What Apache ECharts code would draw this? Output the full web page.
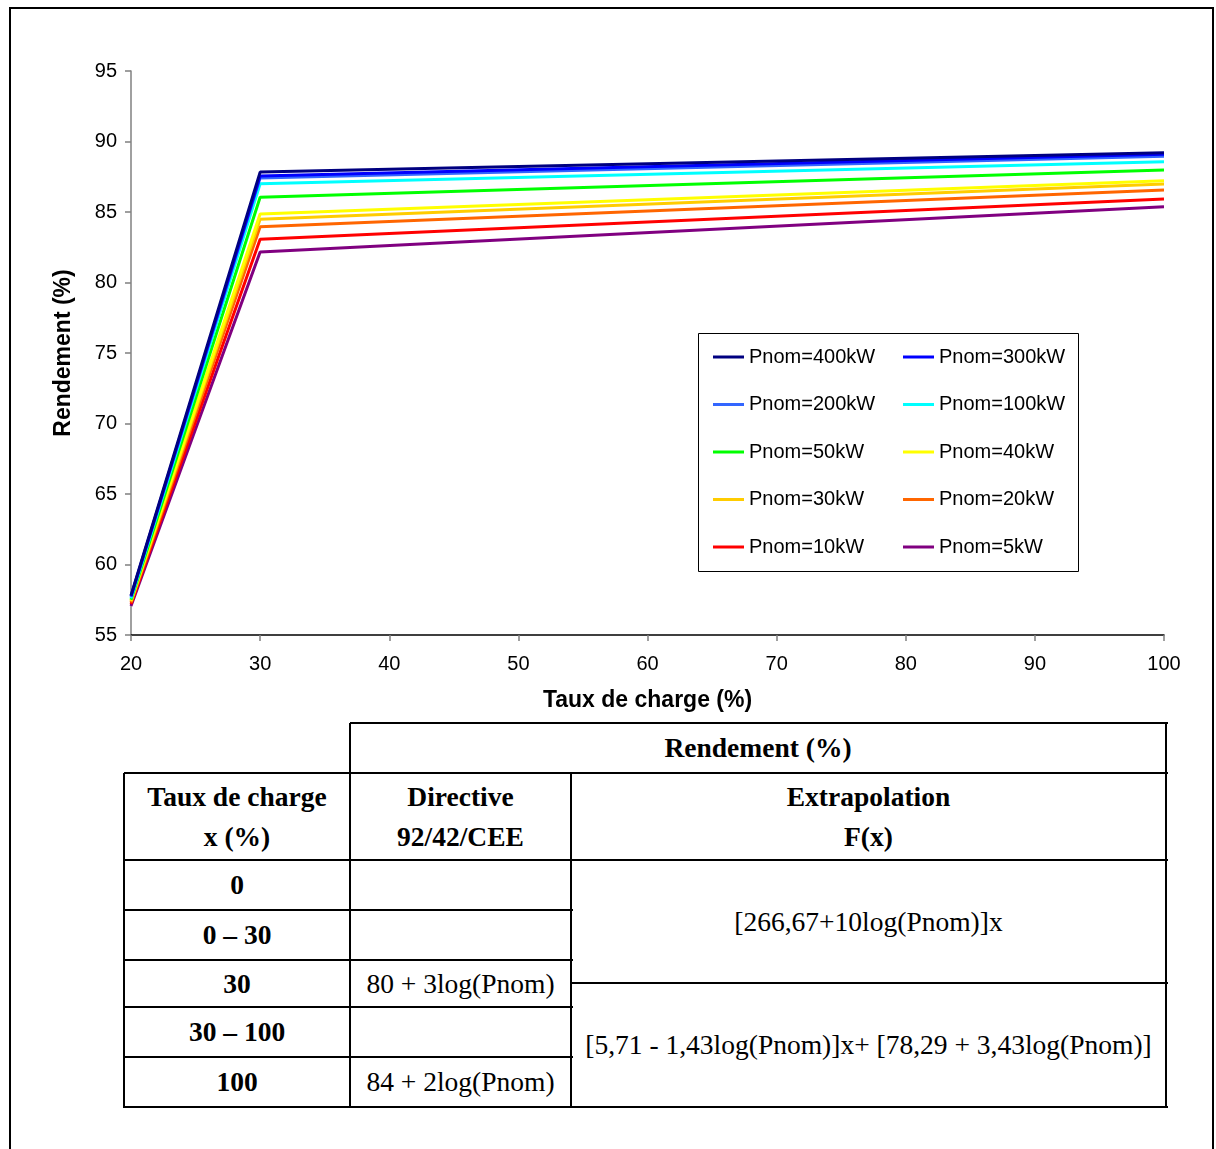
<!DOCTYPE html>
<html>
<head>
<meta charset="utf-8">
<script src="https://cdn.jsdelivr.net/npm/echarts@6/dist/echarts.min.js"></script>
<style>
  html, body { margin: 0; padding: 0; background: #fff; }
  body { width: 1216px; height: 1149px; position: relative; overflow: hidden; }
  #frame { position: absolute; left: 9px; top: 7px; width: 1205px; height: 1160px; border: 2px solid #000; box-sizing: border-box; }
  #chart { position: absolute; left: 0; top: 0; width: 1216px; height: 720px; }
  .cell { position: absolute; box-sizing: border-box; display: flex; align-items: center; justify-content: center; text-align: center;
          font-family: "Liberation Serif", "Times New Roman", serif; font-size: 27.5px; line-height: 40px; color: #000; white-space: nowrap; }
  .b { font-weight: bold; }
  .hl { position: absolute; background: #000; height: 2px; }
  .vl { position: absolute; background: #000; width: 2px; }
</style>
</head>
<body>
<div id="frame"></div>
<div id="chart"></div>
<div id="table"></div>
<script>
// ---- data ----
const loadRates = [20, 30, 100];
const seriesNames = ['Pnom=400kW','Pnom=300kW','Pnom=200kW','Pnom=100kW','Pnom=50kW','Pnom=40kW','Pnom=30kW','Pnom=20kW','Pnom=10kW','Pnom=5kW'];
const p400 = [57.8, 87.83, 89.2];
const p300 = [57.75, 87.55, 89.1];
const p200 = [57.7, 87.42, 88.95];
const p100 = [57.6, 87.0, 88.57];
const p50  = [57.5, 86.05, 87.98];
const p40  = [57.45, 84.86, 87.22];
const p30  = [57.4, 84.48, 86.99];
const p20  = [57.3, 83.96, 86.56];
const p10  = [57.2, 83.06, 85.93];
const p5   = [57.05, 82.16, 85.38];
const yTicks = [55, 95, 5];   // min, max, interval
const xTicks = [20, 100, 10];

const seriesValues = [p400, p300, p200, p100, p50, p40, p30, p20, p10, p5];
const colors = ['#000080','#0000FF','#3366FF','#00FFFF','#00FF00','#FFFF00','#FFCC00','#FF6600','#FF0000','#800080'];

const chart = echarts.init(document.getElementById('chart'));
const legendText = { fontFamily: 'Liberation Sans, Arial, sans-serif', fontSize: 20, color: '#000', lineHeight: 22 };
const option = {
  animation: false,
  backgroundColor: 'transparent',
  grid: { left: 131, top: 71, width: 1033, height: 564, containLabel: false },
  xAxis: {
    type: 'value', min: xTicks[0], max: xTicks[1], interval: xTicks[2],
    name: 'Taux de charge (%)', nameLocation: 'middle', nameGap: 54,
    nameTextStyle: { fontFamily: 'Liberation Sans, Arial, sans-serif', fontSize: 23, fontWeight: 'bold', color: '#000' },
    axisLine: { lineStyle: { color: '#000', width: 1.5 } },
    axisTick: { show: true, length: 6, lineStyle: { color: '#808080', width: 1.5 } },
    axisLabel: { fontFamily: 'Liberation Sans, Arial, sans-serif', fontSize: 20, color: '#000', margin: 19 },
    splitLine: { show: false }
  },
  yAxis: {
    type: 'value', min: yTicks[0], max: yTicks[1], interval: yTicks[2],
    name: 'Rendement (%)', nameLocation: 'middle', nameGap: 56, nameRotate: 90,
    nameTextStyle: { fontFamily: 'Liberation Sans, Arial, sans-serif', fontSize: 23, fontWeight: 'bold', color: '#000' },
    axisLine: { show: true, lineStyle: { color: '#808080', width: 1.5 } },
    axisTick: { show: true, length: 6, lineStyle: { color: '#808080', width: 1.5 } },
    axisLabel: { fontFamily: 'Liberation Sans, Arial, sans-serif', fontSize: 20, color: '#000', margin: 14 },
    splitLine: { show: false }
  },
  legend: [
    { data: [seriesNames[0], seriesNames[2], seriesNames[4], seriesNames[6], seriesNames[8]],
      orient: 'vertical', left: 713, top: 346, itemGap: 25.5, padding: 0,
      icon: 'rect', itemWidth: 31, itemHeight: 3, textStyle: legendText },
    { data: [seriesNames[1], seriesNames[3], seriesNames[5], seriesNames[7], seriesNames[9]],
      orient: 'vertical', left: 903, top: 346, itemGap: 25.5, padding: 0,
      icon: 'rect', itemWidth: 31, itemHeight: 3, textStyle: legendText }
  ],
  graphic: [
    { type: 'rect', left: 698, top: 333, shape: { width: 380, height: 238 },
      style: { fill: '#fff', stroke: '#000', lineWidth: 1 }, z: -1 }
  ],
  series: seriesNames.map((n, i) => ({
    name: n, type: 'line', symbol: 'none', z: 2 + (seriesNames.length - i),
    lineStyle: { width: 3, color: colors[i] }, itemStyle: { color: colors[i] },
    data: loadRates.map((x, j) => [x, seriesValues[i][j]])
  }))
};
chart.setOption(option);

// ---- table ----
const tbl = document.getElementById('table');
function cell(x1, y1, x2, y2, html, bold) {
  const d = document.createElement('div');
  d.className = 'cell' + (bold ? ' b' : '');
  d.style.left = x1 + 'px'; d.style.top = y1 + 'px';
  d.style.width = (x2 - x1) + 'px'; d.style.height = (y2 - y1) + 'px';
  d.innerHTML = html; tbl.appendChild(d);
}
function hl(x1, x2, y) { const d = document.createElement('div'); d.className = 'hl';
  d.style.left = x1 + 'px'; d.style.top = (y - 1) + 'px'; d.style.width = (x2 - x1 + 2) + 'px'; tbl.appendChild(d); }
function vl(x, y1, y2) { const d = document.createElement('div'); d.className = 'vl';
  d.style.left = (x - 1) + 'px'; d.style.top = y1 + 'px'; d.style.height = (y2 - y1 + 1) + 'px'; tbl.appendChild(d); }

const C = [124, 350, 571, 1166];
const R = [723, 773, 860, 910, 960, 1007, 1057, 1107];
const mergeY = 983;
// lines
hl(C[1], C[3], R[0]);
hl(C[0], C[3], R[1]);
hl(C[0], C[3], R[2]);
hl(C[0], C[2], R[3]);
hl(C[0], C[2], R[4]);
hl(C[2], C[3], mergeY);
hl(C[0], C[2], R[5]);
hl(C[0], C[2], R[6]);
hl(C[0], C[3], R[7]);
vl(C[0], R[1], R[7]);
vl(C[1], R[0], R[7]);
vl(C[2], R[1], R[7]);
vl(C[3], R[0], R[7]);
// text
const rowLabels = ['0', '0 \u2013 30', '30', '30 \u2013 100', '100'];
const directive = ['', '', '80 + 3log(Pnom)', '', '84 + 2log(Pnom)'];
cell(C[1], R[0], C[3], R[1], 'Rendement (%)', true);
cell(C[0], R[1], C[1], R[2], 'Taux de charge<br>x (%)', true);
cell(C[1], R[1], C[2], R[2], 'Directive<br>92/42/CEE', true);
cell(C[2], R[1], C[3], R[2], 'Extrapolation<br>F(x)', true);
for (let i = 0; i < 5; i++) {
  cell(C[0], R[2 + i], C[1], R[3 + i], rowLabels[i], true);
  cell(C[1], R[2 + i], C[2], R[3 + i], directive[i], false);
}
cell(C[2], R[2], C[3], mergeY, '[266,67+10log(Pnom)]x', false);
cell(C[2], mergeY, C[3], R[7], '[5,71 - 1,43log(Pnom)]x+ [78,29 + 3,43log(Pnom)]', false);
</script>
</body>
</html>
